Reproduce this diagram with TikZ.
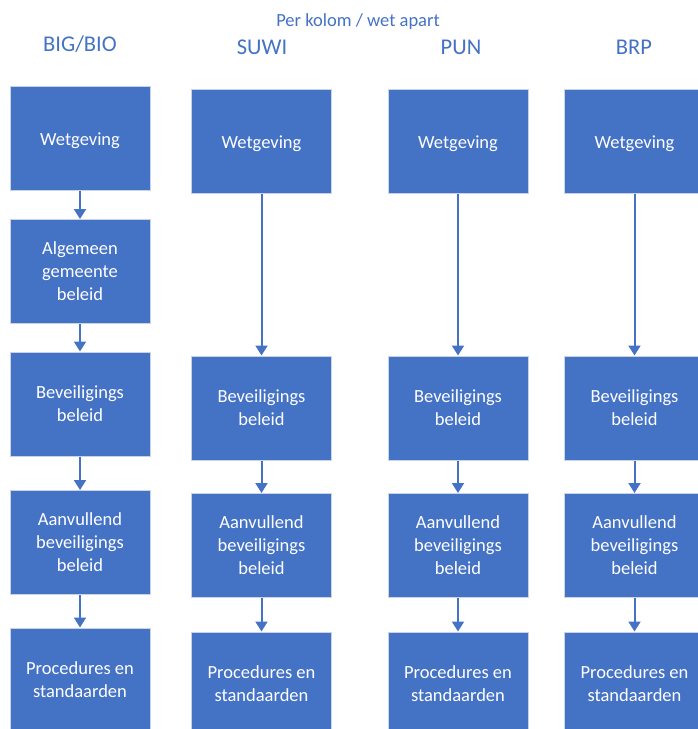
\documentclass[tikz,border=0pt]{standalone}
\usepackage{fontspec}
\setmainfont{Carlito}
\usetikzlibrary{arrows.meta}
\definecolor{boxblue}{HTML}{4472C4}
\definecolor{boxline}{HTML}{C9D3E6}

\begin{document}
\begin{tikzpicture}[x=1pt, y=-1pt]
    % Styles
    \tikzstyle{box} = [rectangle, draw=boxline, line width=1pt, fill=boxblue, text=white, minimum width=140pt, minimum height=104pt, inner sep=0pt, align=center, font=\fontsize{18.5}{23}\selectfont, execute at begin node={\rule{0pt}{18pt}}]
    \tikzstyle{arrow} = [-{Triangle[width=12pt, length=10pt]}, draw=boxblue, line width=2pt]
    \tikzstyle{title} = [text=boxblue, font=\fontsize{22.5}{26}\selectfont]

    \useasboundingbox (0,0) rectangle (698,729);
    \clip (0,0) rectangle (698,729);

    % Headings
    \node[text=boxblue, font=\fontsize{18.5}{22}\selectfont] (head) at (358,22) {Per kolom / wet apart};
    \node[title] (tbig) at (80,44) {BIG/BIO};
    \node[title] (tsuwi) at (262,47) {SUWI};
    \node[title] (tpun) at (461,47) {PUN};
    \node[title] (tbrp) at (634,47) {BRP};

    % Column BIG/BIO
    \node[box] (big1) at (80,138) {Wetgeving};
    \node[box] (big2) at (80,271.5) {Algemeen\\gemeente\\beleid};
    \node[box] (big3) at (80,404) {Beveiligings\\beleid};
    \node[box] (big4) at (80,542.5) {Aanvullend\\beveiligings\\beleid};
    \node[box] (big5) at (80,680) {Procedures en\\standaarden};

    % Column SUWI
    \node[box] (suwi1) at (261.5,141.5) {Wetgeving};
    \node[box] (suwi3) at (261.5,408) {Beveiligings\\beleid};
    \node[box] (suwi4) at (261.5,545.5) {Aanvullend\\beveiligings\\beleid};
    \node[box] (suwi5) at (261.5,684) {Procedures en\\standaarden};

    % Column PUN
    \node[box] (pun1) at (458,141.5) {Wetgeving};
    \node[box] (pun3) at (458,408) {Beveiligings\\beleid};
    \node[box] (pun4) at (458,545.5) {Aanvullend\\beveiligings\\beleid};
    \node[box] (pun5) at (458,684) {Procedures en\\standaarden};

    % Column BRP
    \node[box] (brp1) at (634.5,141.5) {Wetgeving};
    \node[box] (brp3) at (634.5,408) {Beveiligings\\beleid};
    \node[box] (brp4) at (634.5,545.5) {Aanvullend\\beveiligings\\beleid};
    \node[box] (brp5) at (634.5,684) {Procedures en\\standaarden};

    % Arrows
    \draw[arrow] (big1) -- (big2);
    \draw[arrow] (big2) -- (big3);
    \draw[arrow] (big3) -- (big4);
    \draw[arrow] (big4) -- (big5);
    \foreach \col in {suwi, pun, brp} {
        \draw[arrow] (\col1) -- (\col3);
        \draw[arrow] (\col3) -- (\col4);
        \draw[arrow] (\col4) -- (\col5);
    }
\end{tikzpicture}
\end{document}
